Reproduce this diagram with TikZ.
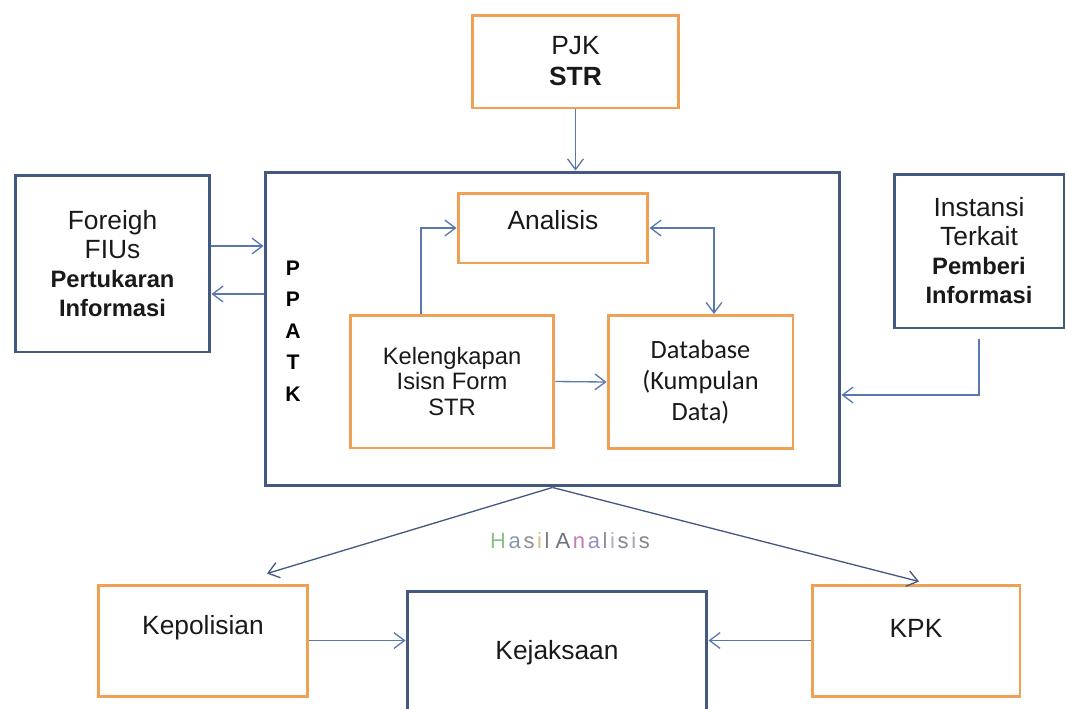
\documentclass[tikz,border=0pt]{standalone}
\usepackage{fontspec}
\setmainfont{Liberation Sans}
\newfontfamily\dbfont{Carlito}
\usetikzlibrary{arrows.meta,calc}
\definecolor{boxblue}{HTML}{44597F}
\definecolor{boxorange}{HTML}{F0A055}
\definecolor{linkblue}{HTML}{5878AE}
\begin{document}
\begin{tikzpicture}[x=0.02cm,y=-0.02cm,
    >={Straight Barb[length=6pt,width=9pt]},
    bluebox/.style={draw=boxblue,line width=1.7pt,rectangle,inner sep=0pt},
    orangebox/.style={draw=boxorange,line width=1.7pt,rectangle,inner sep=0pt},
    txt/.style={align=center,text=black!90,font=\fontsize{15}{16.5}\selectfont},
    link/.style={->,draw=linkblue,line width=0.75pt}]
    \path[use as bounding box,clip] (0,0) rectangle (1067,708);
    % ppatk
    \node[bluebox,minimum width=11.5cm,minimum height=6.28cm] (ppatk) at (552.5,329) {};
    \node[align=center,font=\fontsize{12}{18}\selectfont\bfseries] (ppatklbl) at (293,331) {P\\P\\A\\T\\K};
    \node[orangebox,minimum width=3.8cm,minimum height=1.4cm] (analisis) at (553,228) {};
    \node[txt] (analisislbl) at (553,220) {Analisis};
    \node[orangebox,txt,font=\fontsize{13.5}{14.7}\selectfont,minimum width=4.08cm,minimum height=2.66cm] (kel) at (452,381.5) {Kelengkapan\\Isisn Form\\STR};
    \node[orangebox,txt,font=\dbfont\fontsize{15}{17.6}\selectfont,minimum width=3.7cm,minimum height=2.66cm] (database) at (700.5,382) {Database\\(Kumpulan\\Data)};
    % outside
    \node[orangebox,txt,font=\fontsize{15}{17.6}\selectfont,minimum width=4.14cm,minimum height=1.86cm] (pjk) at (575.5,61.5) {PJK\\\textbf{STR}};
    \node[bluebox,txt,minimum width=3.9cm,minimum height=3.54cm] (foreign) at (112.5,263.5) {Foreigh\\FIUs\\\textbf{\fontsize{13.5}{15.5}\selectfont Pertukaran}\\\textbf{\fontsize{13.5}{15.5}\selectfont Informasi}};
    \node[bluebox,txt,minimum width=3.4cm,minimum height=3.08cm] (instansi) at (979,251) {Instansi\\Terkait\\\textbf{\fontsize{13.5}{15.5}\selectfont Pemberi}\\\textbf{\fontsize{13.5}{15.5}\selectfont Informasi}};
    % penegak hukum
    \node[orangebox,minimum width=4.2cm,minimum height=2.22cm] (kepol) at (203,640.5) {};
    \node[txt] (kepollbl) at (203,628) {Kepolisian};
    \node[orangebox,minimum width=4.16cm,minimum height=2.22cm] (kpk) at (916,640.5) {};
    \node[txt] (kpklbl) at (916,628) {KPK};
    \node[bluebox,txt,minimum width=6cm,minimum height=2.48cm] (kejaksaan) at (557,653) {Kejaksaan};
    \node[font=\fontsize{12.5}{14}\selectfont] (hasil) at (570,541) {\textcolor[HTML]{8CC08A}{H}\kern1.5pt\textcolor[HTML]{8A98AE}{a}\kern1.5pt\textcolor[HTML]{8E8E96}{s}\kern1.5pt\textcolor[HTML]{D6C27A}{i}\kern1.5pt\textcolor[HTML]{7C7C88}{l} \textcolor[HTML]{6E7080}{A}\kern1.5pt\textcolor[HTML]{C478B4}{n}\kern1.5pt\textcolor[HTML]{9C8CC4}{a}\kern1.5pt\textcolor[HTML]{8C8C9C}{l}\kern1.5pt\textcolor[HTML]{ACB0C0}{i}\kern1.5pt\textcolor[HTML]{84849C}{s}\kern1.5pt\textcolor[HTML]{A4A4B4}{i}\kern1.5pt\textcolor[HTML]{84848C}{s}};
    % arrows
    \draw[link] (pjk.south) -- (pjk.south |- ppatk.north);
    \draw[link] (foreign.east |- 0,246) -- (ppatk.west |- 0,246);
    \draw[link] (ppatk.west |- 0,294) -- (foreign.east |- 0,294);
    \draw[link] ([yshift=-0.2cm]instansi.south) |- (ppatk.east |- 0,395);
    \draw[link] (kel.north -| 421,0) |- (analisis.west);
    \draw[link,<->] (analisis.east) -| (database.north -| 714,0);
    \draw[link] (kel.east) -- (database.west);
    % hasil analisis
    \draw[link,draw=boxblue] (ppatk.south) -- ($(kepol.north)+(64,-10)$);
    \draw[link,draw=boxblue] (ppatk.south) -- ($(kpk.north)+(3,-2)$);
    \draw[link] (kepol.east) -- (kepol.east -| kejaksaan.west);
    \draw[link] (kpk.west) -- (kpk.west -| kejaksaan.east);
\end{tikzpicture}
\end{document}
